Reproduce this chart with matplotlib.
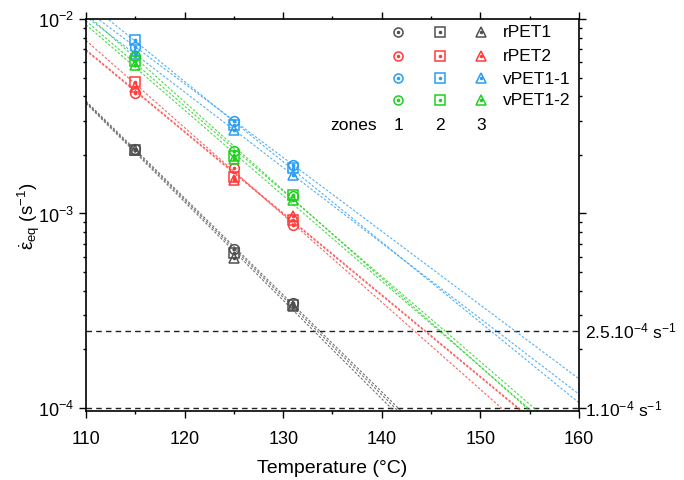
import numpy as np
import matplotlib
matplotlib.use('Agg')
import matplotlib.pyplot as plt
from matplotlib.ticker import MultipleLocator, LogLocator, NullFormatter

plt.rcParams['font.family'] = ['Liberation Sans', 'DejaVu Sans']
plt.rcParams['mathtext.fontset'] = 'custom'
plt.rcParams['mathtext.rm'] = 'Liberation Sans'
plt.rcParams['mathtext.it'] = 'Liberation Sans'
plt.rcParams['mathtext.bf'] = 'Liberation Sans:bold'

# temperatures (deg C) and strain rates (1/s), one list per zone 1,2,3
temps = [115, 125, 131]
rpet1 = [[2.15e-3, 6.6e-4, 3.45e-4],
         [2.13e-3, 6.3e-4, 3.40e-4],
         [2.12e-3, 5.9e-4, 3.35e-4]]
rpet2 = [[4.15e-3, 1.71e-3, 8.7e-4],
         [4.75e-3, 1.54e-3, 9.25e-4],
         [4.45e-3, 1.48e-3, 9.7e-4]]
vpet11 = [[7.2e-3, 3.0e-3, 1.78e-3],
          [7.8e-3, 2.85e-3, 1.72e-3],
          [6.6e-3, 2.68e-3, 1.58e-3]]
vpet12 = [[6.45e-3, 2.10e-3, 1.23e-3],
          [6.1e-3, 1.98e-3, 1.24e-3],
          [5.8e-3, 1.90e-3, 1.17e-3]]

names = ['rPET1', 'rPET2', 'vPET1-1', 'vPET1-2']
colors = ['#505050', '#FF3B3B', '#2A9DF4', '#1FD01F']
zone_markers = ['o', 's', '^']
zone_labels = ['1', '2', '3']
limits = [2.5e-4, 1e-4]
limit_labels = [r'2.5.10$^{-4}$ s$^{-1}$', r'1.10$^{-4}$ s$^{-1}$']

fig = plt.figure(figsize=(6.84, 4.81), dpi=100)
ax = fig.add_axes([0.1257, 0.1435, 0.7208, 0.8149])

xfit = np.linspace(110, 160, 50)
for series, col in zip([rpet1, rpet2, vpet11, vpet12], colors):
    for zone, mk in zip(series, zone_markers):
        k, b = np.polyfit(temps, np.log10(zone), 1)
        ax.plot(xfit, 10 ** (k * xfit + b), ls=(0, (2.2, 1.6)), lw=0.8,
                color=col, alpha=0.8, zorder=2)
    for zone, mk in zip(series, zone_markers):
        ax.plot(temps, zone, ls='none', marker=mk, ms=7, mfc='none',
                mec=col, mew=1.1, zorder=3)
        ax.plot(temps, zone, ls='none', marker='o', ms=1.6, mfc=col,
                mec=col, zorder=4)

ytr = ax.get_yaxis_transform()
for lv, lab in zip(limits, limit_labels):
    ax.axhline(lv, color='#202020', lw=1.0, ls=(0, (4, 3)), zorder=1)
    ax.text(1.012, lv, lab, transform=ytr, va='center', ha='left',
            fontsize=12.5, clip_on=False)

# legend grid
xcols = [0.633, 0.718, 0.801]
yrows = [0.968, 0.906, 0.849, 0.794]
for name, col, yr in zip(names, colors, yrows):
    for mk, xc in zip(zone_markers, xcols):
        ax.plot([xc], [yr], transform=ax.transAxes, ls='none', marker=mk,
                ms=6.5, mfc='none', mec=col, mew=1.1)
        ax.plot([xc], [yr], transform=ax.transAxes, ls='none', marker='o',
                ms=1.5, mfc=col, mec=col)
    ax.text(0.846, yr, name, transform=ax.transAxes, va='center',
            ha='left', fontsize=12.5)
ax.text(0.59, 0.732, 'zones', transform=ax.transAxes, va='center',
        ha='right', fontsize=12.5)
for lab, xc in zip(zone_labels, xcols):
    ax.text(xc, 0.732, lab, transform=ax.transAxes, va='center',
            ha='center', fontsize=12.5)

ax.set_yscale('log')
ax.set_xlim(110, 160)
ax.set_ylim(9.65e-5, 1e-2)
ax.xaxis.set_major_locator(MultipleLocator(10))
ax.xaxis.set_minor_locator(MultipleLocator(5))
ax.yaxis.set_major_locator(LogLocator(base=10, numticks=10))
ax.yaxis.set_minor_locator(LogLocator(base=10, subs=np.arange(2, 10), numticks=10))
ax.yaxis.set_minor_formatter(NullFormatter())

ax.tick_params(which='both', direction='out', top=True, right=True,
               labeltop=False, labelright=False, width=1.0, labelsize=13)
ax.tick_params(which='major', length=5)
ax.tick_params(which='minor', length=2.5)
ax.tick_params(axis='x', which='major', pad=9)
for sp in ax.spines.values():
    sp.set_linewidth(1.2)

ax.set_xlabel('Temperature (°C)', fontsize=14, labelpad=8)
ax.set_ylabel(r'$\dot{\varepsilon}_{\rm eq}$ (s$^{-1}$)', fontsize=13.5)
ax.yaxis.set_label_coords(-0.09, 0.5)

fig.savefig('out.png', dpi=100)
